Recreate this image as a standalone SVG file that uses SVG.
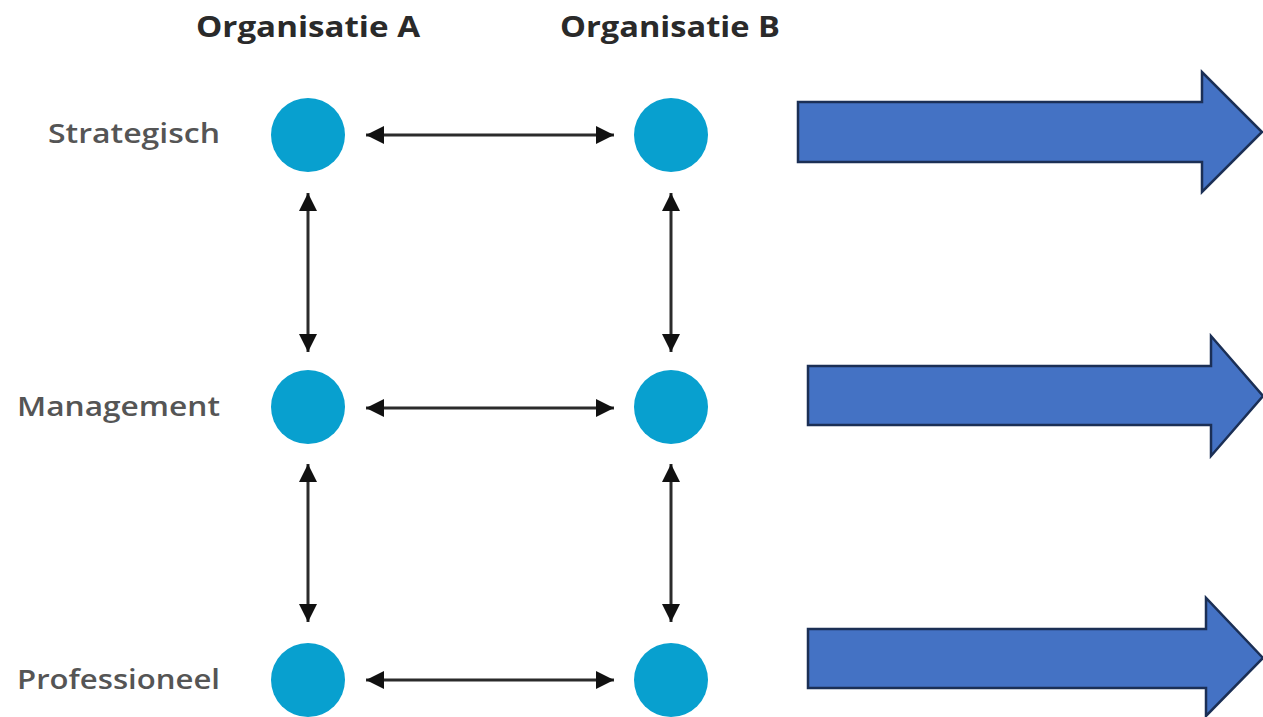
<svg xmlns="http://www.w3.org/2000/svg" width="1263" height="717" viewBox="0 0 1263 717">
<style>
.hd{font-family:"Open Sans","Noto Sans",sans-serif;font-weight:bold;font-size:29px;fill:#2a2a2a}
.lb{font-family:"Open Sans","Noto Sans",sans-serif;font-weight:600;font-size:27px;fill:#555}
.node{fill:#08A0CF}
.con{stroke:#2b2b2b;stroke-width:3;fill:none;marker-start:url(#ah);marker-end:url(#ah)}
.big{fill:#4472C4;stroke:#1B2F55;stroke-width:2.5}
</style>
<defs>
<marker id="ah" viewBox="0 0 10 10" refX="10" refY="5" markerWidth="8.5" markerHeight="6" orient="auto-start-reverse" markerUnits="strokeWidth">
<path d="M0,0 L10,5 L0,10 z" fill="#111"/>
</marker>
</defs>
<rect width="1263" height="717" fill="#fff"/>
<g id="headers">
<text class="hd" x="308" y="37" text-anchor="middle" textLength="224" lengthAdjust="spacingAndGlyphs">Organisatie A</text>
<text class="hd" x="670" y="37" text-anchor="middle" textLength="220" lengthAdjust="spacingAndGlyphs">Organisatie B</text>
</g>
<g id="labels">
<text class="lb" x="48" y="143" textLength="172" lengthAdjust="spacingAndGlyphs">Strategisch</text>
<text class="lb" x="17" y="416" textLength="203" lengthAdjust="spacingAndGlyphs">Management</text>
<text class="lb" x="17" y="689" textLength="203" lengthAdjust="spacingAndGlyphs">Professioneel</text>
</g>
<g id="nodeA1"><circle class="node" cx="308" cy="135" r="37"/></g>
<g id="nodeB1"><circle class="node" cx="671" cy="135" r="37"/></g>
<g id="nodeA2"><circle class="node" cx="308" cy="407" r="37"/></g>
<g id="nodeB2"><circle class="node" cx="671" cy="407" r="37"/></g>
<g id="nodeA3"><circle class="node" cx="308" cy="680" r="37"/></g>
<g id="nodeB3"><circle class="node" cx="671" cy="680" r="37"/></g>
<g id="connectors">
<line class="con" x1="366" y1="135" x2="614" y2="135"/>
<line class="con" x1="366" y1="408" x2="614" y2="408"/>
<line class="con" x1="366" y1="680" x2="614" y2="680"/>
<line class="con" x1="308" y1="193" x2="308" y2="352"/>
<line class="con" x1="671" y1="193" x2="671" y2="352"/>
<line class="con" x1="308" y1="464" x2="308" y2="622"/>
<line class="con" x1="671" y1="464" x2="671" y2="622"/>
</g>
<g id="arrow1"><polygon class="big" points="798,102 1202,102 1202,72 1262,132 1202,192 1202,162 798,162"/></g>
<g id="arrow2"><polygon class="big" points="808,366 1211,366 1211,336 1263,396 1211,456 1211,425 808,425"/></g>
<g id="arrow3"><polygon class="big" points="808,629 1206,629 1206,598 1263,658 1206,716 1206,688 808,688"/></g>
</svg>
